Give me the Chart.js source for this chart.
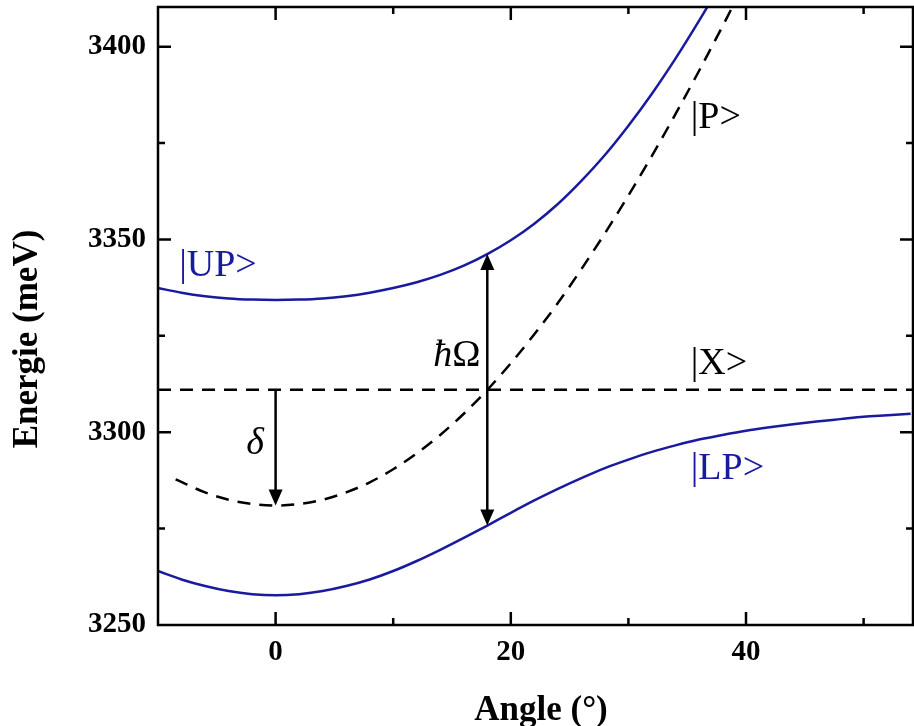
<!DOCTYPE html>
<html>
<head>
<meta charset="utf-8">
<script src="https://cdn.jsdelivr.net/npm/chart.js@4.4.1/dist/chart.umd.min.js"></script>
<style>
  html, body { margin: 0; padding: 0; background: #fff; }
</style>
</head>
<body>
<canvas id="polaritonChart" width="914" height="726"></canvas>
<script>
// Winkel (°) und Energien (meV)
const angleDeg = [-10, -8, -6, -4, -2, 0, 2, 4, 6, 8, 10, 12, 14, 16, 18, 20, 22, 24, 26, 28, 30, 32, 34, 36, 38, 40, 42, 44, 46, 48, 50, 52, 54];
const lowerPolariton = [3264.0, 3261.8, 3260.1, 3258.8, 3258.0, 3257.7, 3258.0, 3258.8, 3260.1, 3261.8, 3264.0, 3266.6, 3269.5, 3272.6, 3275.8, 3279.1, 3282.3, 3285.3, 3288.1, 3290.7, 3292.9, 3294.9, 3296.6, 3298.1, 3299.3, 3300.4, 3301.3, 3302.1, 3302.8, 3303.4, 3304.0, 3304.4, 3304.8];
const upperAngleDeg = [-10, -8, -6, -4, -2, 0, 2, 4, 6, 8, 10, 12, 14, 16, 18, 20, 22, 24, 26, 28, 30, 32, 34, 36, 38, 40];
const upperPolariton = [3337.4, 3336.2, 3335.3, 3334.7, 3334.4, 3334.3, 3334.4, 3334.7, 3335.3, 3336.2, 3337.4, 3338.9, 3340.8, 3343.2, 3346.2, 3349.8, 3354.1, 3359.2, 3365.2, 3371.9, 3379.5, 3387.8, 3396.9, 3406.7, 3417.0, 3427.8];
const photonAngleDeg = [-8.5, -6, -4, -2, 0, 2, 4, 6, 8, 10, 12, 14, 16, 18, 20, 22, 24, 26, 28, 30, 32, 34, 36, 38, 40];
const photonMode = [3287.8, 3284.4, 3282.5, 3281.4, 3281.0, 3281.4, 3282.5, 3284.4, 3287.0, 3290.4, 3294.5, 3299.3, 3304.8, 3311.0, 3317.9, 3325.4, 3333.5, 3342.3, 3351.6, 3361.4, 3371.7, 3382.5, 3393.7, 3405.3, 3417.2];
const excitonAngleDeg = [-10, 54.2];
const excitonMode = [3311, 3311];

// Achsen
const xMajorTicks = [0, 20, 40];
const xMinorTicks = [-10, 10, 30, 50];
const yMajorTicks = [3250, 3300, 3350, 3400];
const yMinorTicks = [3275, 3325, 3375];

// Pfeile: delta bei 0°, hOmega bei 18°
const deltaArrow = { angle: 0, from: 3311, to: 3281 };
const rabiArrow = { angle: 18, from: 3275.8, to: 3346.2 };

const BLUE = '#1a1a9e';
const SERIF = '"Liberation Serif", "Times New Roman", serif';

function toPoints(xs, ys) {
    return xs.map((v, i) => ({ x: v, y: ys[i] }));
}

function arrowHead(ctx, px, py, dir) {
    // dir: +1 zeigt nach unten, -1 nach oben
    ctx.beginPath();
    ctx.moveTo(px, py);
    ctx.lineTo(px - 7, py - dir * 16);
    ctx.lineTo(px + 7, py - dir * 16);
    ctx.closePath();
    ctx.fill();
}

const notesPlugin = {
    id: 'polaritonNotes',
    afterDatasetsDraw(chart) {
        const { ctx, chartArea: a, scales: { x, y } } = chart;
        ctx.save();
        ctx.strokeStyle = '#000';
        ctx.fillStyle = '#000';
        ctx.lineWidth = 2.5;
        ctx.setLineDash([]);

        // Rahmen
        ctx.strokeRect(a.left, a.top, a.right - a.left, a.bottom - a.top);

        // Ticks nach innen, auch oben und rechts
        const xTicks = (vals, len) => vals.forEach(v => {
            const px = x.getPixelForValue(v);
            if (px <= a.left + 1 || px >= a.right - 1) return;
            ctx.beginPath();
            ctx.moveTo(px, a.bottom); ctx.lineTo(px, a.bottom - len);
            ctx.moveTo(px, a.top); ctx.lineTo(px, a.top + len);
            ctx.stroke();
        });
        const yTicks = (vals, len) => vals.forEach(v => {
            const py = y.getPixelForValue(v);
            if (py <= a.top + 1 || py >= a.bottom - 1) return;
            ctx.beginPath();
            ctx.moveTo(a.left, py); ctx.lineTo(a.left + len, py);
            ctx.moveTo(a.right, py); ctx.lineTo(a.right - len, py);
            ctx.stroke();
        });
        xTicks(xMajorTicks, 13);
        xTicks(xMinorTicks, 7);
        yTicks(yMajorTicks, 13);
        yTicks(yMinorTicks, 7);

        // Pfeil delta
        ctx.lineWidth = 2.5;
        let px = x.getPixelForValue(deltaArrow.angle);
        let y1 = y.getPixelForValue(deltaArrow.from);
        let y2 = y.getPixelForValue(deltaArrow.to);
        ctx.beginPath();
        ctx.moveTo(px, y1); ctx.lineTo(px, y2 - 10);
        ctx.stroke();
        arrowHead(ctx, px, y2, 1);

        // Pfeil hOmega (doppelt)
        px = x.getPixelForValue(rabiArrow.angle);
        y1 = y.getPixelForValue(rabiArrow.from);
        y2 = y.getPixelForValue(rabiArrow.to);
        ctx.beginPath();
        ctx.moveTo(px, y1 - 10); ctx.lineTo(px, y2 + 10);
        ctx.stroke();
        arrowHead(ctx, px, y1, 1);
        arrowHead(ctx, px, y2, -1);

        // Beschriftungen
        ctx.textAlign = 'left';
        ctx.textBaseline = 'alphabetic';
        const label = (txt, ax, en, color, style) => {
            ctx.font = (style || '') + ' 38px ' + SERIF;
            ctx.fillStyle = color;
            ctx.fillText(txt, x.getPixelForValue(ax), y.getPixelForValue(en));
        };
        label('|UP>', -8.2, 3340.6, BLUE);
        label('|LP>', 35.3, 3287.8, BLUE);
        label('|P>', 35.3, 3379.0, '#000');
        label('|X>', 35.3, 3315.1, '#000');
        label('\u03B4', -2.5, 3294.3, '#000', 'italic');

        // hOmega: h-quer kursiv, Omega gerade
        ctx.fillStyle = '#000';
        const hx = x.getPixelForValue(13.4);
        const hy = y.getPixelForValue(3317.2);
        ctx.font = 'italic 38px ' + SERIF;
        ctx.fillText('\u0127', hx, hy);
        const w = ctx.measureText('\u0127').width;
        ctx.font = '38px ' + SERIF;
        ctx.fillText('\u03A9', hx + w, hy);

        // Achsentitel
        ctx.font = 'bold 35px ' + SERIF;
        ctx.textAlign = 'center';
        ctx.fillText('Angle (\u00B0)', 541, 720);
        ctx.translate(37, 339);
        ctx.rotate(-Math.PI / 2);
        ctx.fillText('Energie (meV)', 0, 0);

        ctx.restore();
    }
};

const ctx = document.getElementById('polaritonChart');

new Chart(ctx, {
    type: 'line',
    data: {
        datasets: [
            {
                label: '|UP>',
                data: toPoints(upperAngleDeg, upperPolariton),
                borderColor: BLUE,
                borderWidth: 2.5,
                pointRadius: 0,
                cubicInterpolationMode: 'monotone'
            },
            {
                label: '|LP>',
                data: toPoints(angleDeg, lowerPolariton),
                borderColor: BLUE,
                borderWidth: 2.5,
                pointRadius: 0,
                cubicInterpolationMode: 'monotone'
            },
            {
                label: '|P>',
                data: toPoints(photonAngleDeg, photonMode),
                borderColor: '#000',
                borderWidth: 2.5,
                borderDash: [13, 9],
                pointRadius: 0,
                cubicInterpolationMode: 'monotone'
            },
            {
                label: '|X>',
                data: toPoints(excitonAngleDeg, excitonMode),
                borderColor: '#000',
                borderWidth: 2.5,
                borderDash: [13, 9],
                pointRadius: 0
            }
        ]
    },
    options: {
        responsive: false,
        animation: false,
        layout: { padding: { top: 7, right: 1, left: 0, bottom: 0 } },
        plugins: {
            legend: { display: false },
            tooltip: { enabled: false }
        },
        scales: {
            x: {
                type: 'linear',
                min: -10,
                max: 54.2,
                grid: { display: false, drawTicks: false },
                border: { display: false },
                afterBuildTicks: s => { s.ticks = xMajorTicks.map(v => ({ value: v })); },
                afterFit: s => { s.height = 101; s.paddingLeft = 0; s.paddingRight = 0; },
                ticks: {
                    padding: 10,
                    color: '#000',
                    maxRotation: 0,
                    callback: v => String(v),
                    font: { family: SERIF, size: 29, weight: 'bold' }
                }
            },
            y: {
                type: 'linear',
                min: 3250,
                max: 3410.3,
                grid: { display: false, drawTicks: false },
                border: { display: false },
                afterBuildTicks: s => { s.ticks = yMajorTicks.map(v => ({ value: v })); },
                afterFit: s => { s.width = 158; s.paddingTop = 0; s.paddingBottom = 0; },
                ticks: {
                    padding: 12,
                    color: '#000',
                    callback: v => String(v),
                    font: { family: SERIF, size: 29, weight: 'bold' }
                }
            }
        }
    },
    plugins: [notesPlugin]
});
</script>
</body>
</html>
